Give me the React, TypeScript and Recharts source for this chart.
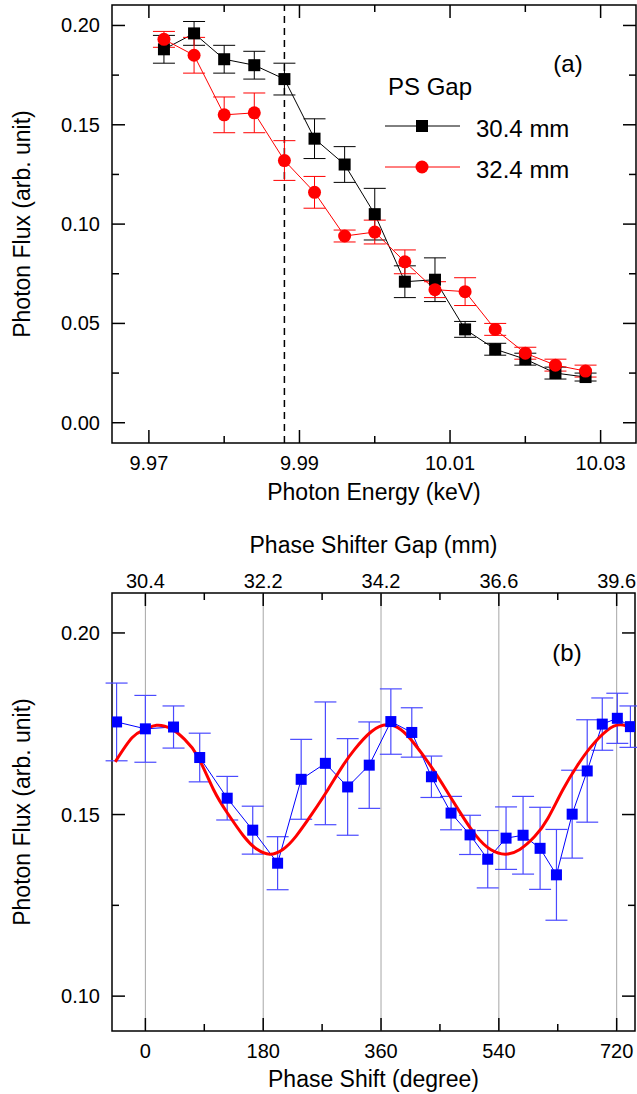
import React from "react";
import { ComposedChart, Line, XAxis, YAxis, ErrorBar, ReferenceLine, ReferenceArea } from "recharts";

const FONT = '"Liberation Sans", Arial, Helvetica, sans-serif';

// (a) photon flux vs photon energy, two phase-shifter gaps
const energy = [9.972, 9.976, 9.98, 9.984, 9.988, 9.992, 9.996, 10.0, 10.004, 10.008, 10.012, 10.016, 10.02, 10.024, 10.028];
const flux304 = [0.188, 0.196, 0.183, 0.18, 0.173, 0.143, 0.13, 0.105, 0.071, 0.072, 0.047, 0.037, 0.032, 0.025, 0.023];
const err304 = [0.007, 0.006, 0.007, 0.007, 0.008, 0.01, 0.009, 0.013, 0.008, 0.011, 0.004, 0.003, 0.003, 0.003, 0.002];
const flux324 = [0.193, 0.185, 0.155, 0.156, 0.132, 0.116, 0.094, 0.096, 0.081, 0.067, 0.066, 0.047, 0.035, 0.029, 0.026];
const err324 = [0.004, 0.009, 0.009, 0.01, 0.01, 0.008, 0.003, 0.006, 0.006, 0.004, 0.007, 0.003, 0.003, 0.003, 0.003];
const energyMajor = [9.97, 9.99, 10.01, 10.03];
const energyMinor = [9.98, 10.0, 10.02];
const fluxMajorA = [0, 0.05, 0.1, 0.15, 0.2];
const fluxMinorA = [0.025, 0.075, 0.125, 0.175];
const dashedEnergy = 9.988;

// (b) photon flux vs phase shift
const phase = [-44, 0, 43, 83, 125, 164, 202, 238, 275, 309, 342, 375, 407, 437, 467, 496, 523, 551, 577, 603, 628, 652, 675, 698, 721, 741];
const fluxPhase = [0.1755, 0.1736, 0.1741, 0.1657, 0.1545, 0.1457, 0.1366, 0.1597, 0.1641, 0.1576, 0.1636, 0.1756, 0.1726, 0.1604, 0.1504, 0.1444, 0.1377, 0.1435, 0.1443, 0.1407, 0.1334, 0.1501, 0.162, 0.1749, 0.1765, 0.1742];
const errPhase = [0.0107, 0.0092, 0.0058, 0.0067, 0.006, 0.0066, 0.0073, 0.011, 0.0169, 0.0133, 0.0119, 0.009, 0.0068, 0.0057, 0.0046, 0.0054, 0.0079, 0.0086, 0.0107, 0.0113, 0.0125, 0.0121, 0.0141, 0.0072, 0.0069, 0.0057];
const fitPhase = [-46, -20, 0, 17, 40, 60, 80, 104, 125, 150, 170, 190, 210, 230, 255, 279, 300, 320, 345, 369, 390, 410, 435, 459, 480, 505, 528, 550, 572, 595, 615, 638, 660, 680, 705, 726, 748];
const fitFlux = [0.1645, 0.1712, 0.1735, 0.1746, 0.1736, 0.1707, 0.166, 0.1569, 0.1505, 0.1441, 0.1405, 0.1391, 0.1404, 0.144, 0.1503, 0.1569, 0.163, 0.168, 0.1728, 0.1747, 0.1734, 0.1697, 0.1636, 0.1569, 0.1508, 0.1442, 0.1403, 0.1391, 0.1404, 0.144, 0.149, 0.1569, 0.1635, 0.1685, 0.1731, 0.1747, 0.1735];
const phaseMajor = [0, 180, 360, 540, 720];
const phaseMinor = [90, 270, 450, 630];
const gapLabels = ["30.4", "32.2", "34.2", "36.6", "39.6"];
const fluxMajorB = [0.1, 0.15, 0.2];
const fluxMinorB = [0.125, 0.175];

const seriesA304 = energy.map((x, i) => ({ x, y: flux304[i], e: err304[i] }));
const seriesA324 = energy.map((x, i) => ({ x, y: flux324[i], e: err324[i] }));
const seriesB = phase.map((x, i) => ({ x, y: fluxPhase[i], e: errPhase[i] }));
const fitB = fitPhase.map((x, i) => ({ x, y: fitFlux[i] }));

// plot box size in px (same for both panels)
const PLOT_W = 524;
const PLOT_H = 438;

type Side = "left" | "top" | "bottom";

const findIdx = (list: number[], v: number) => list.findIndex((m) => Math.abs(m - v) < 1e-6);

const tickLabel = (side: Side, majors: number[], label: (v: number) => string, gap: number) => (props: any) => {
  const x = Number(props.x);
  const y = Number(props.y);
  const v = props.payload.value;
  if (findIdx(majors, v) < 0) return <g />;
  let tx = x;
  let ty = y;
  let anchor: "middle" | "end" = "middle";
  if (side === "bottom") ty = y + gap;
  if (side === "top") ty = y - gap;
  if (side === "left") {
    tx = x - gap;
    anchor = "end";
  }
  return (
    <text x={tx} y={ty} textAnchor={anchor} dominantBaseline="central" fontSize={20} fontFamily={FONT} fill="#000">
      {label(v)}
    </text>
  );
};

const xTitle = (text: string, dy: number) => (props: any) => {
  const vb = props.viewBox;
  return (
    <text x={vb.x + vb.width / 2} y={vb.y + dy} textAnchor="middle" dominantBaseline="central" fontSize={23} fontFamily={FONT} fill="#000">
      {text}
    </text>
  );
};

const yTitle = (text: string, dx: number) => (props: any) => {
  const vb = props.viewBox;
  const cx = vb.x + dx;
  const cy = vb.y + vb.height / 2;
  return (
    <text x={cx} y={cy} transform={`rotate(-90 ${cx} ${cy})`} textAnchor="middle" dominantBaseline="central" fontSize={23} fontFamily={FONT} fill="#000">
      {text}
    </text>
  );
};

// inward tick segments for all four sides, in data units
const tickSegments = (domX: number[], domY: number[], xMajor: number[], xMinor: number[], yMajor: number[], yMinor: number[]) => {
  const dx = (domX[1] - domX[0]) / PLOT_W;
  const dy = (domY[1] - domY[0]) / PLOT_H;
  const segs: { id: string; seg: { x: number; y: number }[] }[] = [];
  [...xMajor, ...xMinor].forEach((v) => {
    const len = (findIdx(xMajor, v) >= 0 ? 13 : 7) * dy;
    segs.push({ id: `xb${v}`, seg: [{ x: v, y: domY[0] }, { x: v, y: domY[0] + len }] });
    segs.push({ id: `xt${v}`, seg: [{ x: v, y: domY[1] }, { x: v, y: domY[1] - len }] });
  });
  [...yMajor, ...yMinor].forEach((v) => {
    const len = (findIdx(yMajor, v) >= 0 ? 13 : 7) * dx;
    segs.push({ id: `yl${v}`, seg: [{ x: domX[0], y: v }, { x: domX[0] + len, y: v }] });
    segs.push({ id: `yr${v}`, seg: [{ x: domX[1], y: v }, { x: domX[1] - len, y: v }] });
  });
  return segs;
};

const squareDot = (color: string, s: number) => (props: any) => (
  <rect key={`sq-${props.index}`} x={props.cx - s / 2} y={props.cy - s / 2} width={s} height={s} fill={color} />
);

const circleDot = (color: string, r: number) => (props: any) => (
  <circle key={`ci-${props.index}`} cx={props.cx} cy={props.cy} r={r} fill={color} />
);

const legendText = { fontSize: 24, fontFamily: FONT, fill: "#000" };

export default function App() {
  const domA = [-0.0102, 0.2103];
  const domE = [9.9651, 10.0347];
  const domB = [0.0904, 0.211];
  const domP = [-51, 748];
  const ticksE = [...energyMajor, ...energyMinor];
  const ticksA = [...fluxMajorA, ...fluxMinorA];
  const ticksP = [...phaseMajor, ...phaseMinor];
  const ticksB = [...fluxMajorB, ...fluxMinorB];
  const segsA = tickSegments(domE, domA, energyMajor, energyMinor, fluxMajorA, fluxMinorA);
  const segsB = tickSegments(domP, domB, phaseMajor, phaseMinor, fluxMajorB, fluxMinorB);
  const common = { type: "number" as const, allowDataOverflow: true, interval: 0, tickSize: 0, tickMargin: 0, tickLine: false, axisLine: false };

  return (
    <div style={{ position: "absolute", left: 0, top: 0, width: 637, height: 1094, background: "#fff" }}>
      <div style={{ position: "absolute", left: 0, top: 0 }}>
        <ComposedChart width={637} height={520} margin={{ top: 5, right: 1, bottom: 0, left: 0 }}>
          <XAxis
            {...common}
            dataKey="x"
            domain={domE}
            ticks={ticksE}
            height={77}
            tick={tickLabel("bottom", energyMajor, (v) => v.toFixed(2), 20)}
            label={xTitle("Photon Energy (keV)", 49)}
          />
          <YAxis
            {...common}
            domain={domA}
            ticks={ticksA}
            width={112}
            tick={tickLabel("left", fluxMajorA, (v) => v.toFixed(2), 12)}
            label={yTitle("Photon Flux (arb. unit)", 22)}
          />
          <ReferenceArea x1={domE[0]} x2={domE[1]} y1={domA[0]} y2={domA[1]} fill="none" stroke="#000" strokeWidth={1.5} ifOverflow="visible" />
          {segsA.map((s) => (
            <ReferenceLine key={s.id} segment={s.seg} stroke="#000" strokeWidth={1.5} ifOverflow="visible" />
          ))}
          <ReferenceLine x={dashedEnergy} stroke="#000" strokeWidth={1.5} strokeDasharray="7 5" />
          <Line data={seriesA304} dataKey="y" type="linear" stroke="#000" strokeWidth={1} dot={squareDot("#000", 12)} activeDot={false} isAnimationActive={false}>
            <ErrorBar dataKey="e" direction="y" width={11} stroke="#000" strokeWidth={1} isAnimationActive={false} />
          </Line>
          <Line data={seriesA324} dataKey="y" type="linear" stroke="#ff0000" strokeWidth={1} dot={circleDot("#ff0000", 6.5)} activeDot={false} isAnimationActive={false}>
            <ErrorBar dataKey="e" direction="y" width={11} stroke="#ff0000" strokeWidth={1} isAnimationActive={false} />
          </Line>
        </ComposedChart>
      </div>

      <div style={{ position: "absolute", left: 0, top: 520 }}>
        <ComposedChart width={637} height={574} margin={{ top: 0, right: 1, bottom: 0, left: 0 }}>
          <XAxis
            {...common}
            dataKey="x"
            domain={domP}
            ticks={ticksP}
            height={63}
            tick={tickLabel("bottom", phaseMajor, (v) => String(v), 20)}
            label={xTitle("Phase Shift (degree)", 48)}
          />
          <XAxis
            {...common}
            xAxisId="top"
            orientation="top"
            dataKey="x"
            domain={domP}
            ticks={ticksP}
            height={73}
            tick={tickLabel("top", phaseMajor, (v) => gapLabels[findIdx(phaseMajor, v)], 12)}
            label={xTitle("Phase Shifter Gap (mm)", 25)}
          />
          <YAxis
            {...common}
            domain={domB}
            ticks={ticksB}
            width={112}
            tick={tickLabel("left", fluxMajorB, (v) => v.toFixed(2), 12)}
            label={yTitle("Photon Flux (arb. unit)", 22)}
          />
          <YAxis {...common} yAxisId="right" orientation="right" domain={domB} width={1} tick={false} />
          {phaseMajor.map((p) => (
            <ReferenceLine key={`g${p}`} x={p} stroke="#a6a6a6" strokeWidth={1} />
          ))}
          <ReferenceArea x1={domP[0]} x2={domP[1]} y1={domB[0]} y2={domB[1]} fill="none" stroke="#000" strokeWidth={1.5} ifOverflow="visible" />
          {segsB.map((s) => (
            <ReferenceLine key={s.id} segment={s.seg} stroke="#000" strokeWidth={1.5} ifOverflow="visible" />
          ))}
          {/* invisible series so the top gap axis is drawn */}
          <Line data={seriesB} xAxisId="top" yAxisId="right" dataKey="y" stroke="none" dot={false} activeDot={false} isAnimationActive={false} />
          <Line data={seriesB} dataKey="y" type="linear" stroke="#0000ff" strokeWidth={1} dot={squareDot("#0000ff", 11)} activeDot={false} isAnimationActive={false}>
            <ErrorBar dataKey="e" direction="y" width={11} stroke="#4a4aff" strokeWidth={1.2} isAnimationActive={false} />
          </Line>
          <Line data={fitB} dataKey="y" type="natural" stroke="#ff0000" strokeWidth={3} dot={false} activeDot={false} isAnimationActive={false} />
        </ComposedChart>
      </div>

      <svg width={637} height={1094} style={{ position: "absolute", left: 0, top: 0, pointerEvents: "none" }}>
        <text x={568} y={63} textAnchor="middle" dominantBaseline="central" {...legendText}>(a)</text>
        <text x={388} y={86} dominantBaseline="central" {...legendText}>PS Gap</text>
        <line x1={385} x2={460} y1={126} y2={126} stroke="#000" strokeWidth={1} />
        <rect x={416} y={120} width={12} height={12} fill="#000" />
        <text x={476} y={128} dominantBaseline="central" {...legendText}>30.4 mm</text>
        <line x1={385} x2={460} y1={167} y2={167} stroke="#ff0000" strokeWidth={1} />
        <circle cx={422} cy={167} r={6.5} fill="#ff0000" />
        <text x={476} y={169} dominantBaseline="central" {...legendText}>32.4 mm</text>
        <text x={567} y={652} textAnchor="middle" dominantBaseline="central" {...legendText}>(b)</text>
      </svg>
    </div>
  );
}
